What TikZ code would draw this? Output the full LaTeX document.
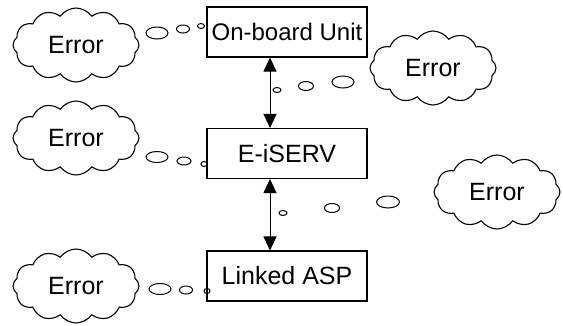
\documentclass[tikz,border=0pt]{standalone}
\usepackage{fontspec}
\setmainfont{Liberation Sans}
\usetikzlibrary{shapes.symbols,shapes.geometric,arrows.meta}

\begin{document}
\begin{tikzpicture}[x=1pt,y=-1pt,
    box/.style={draw,line width=1.1pt,minimum width=160pt,minimum height=50pt,
      inner sep=0pt,font=\fontsize{25}{30}\selectfont},
    err/.style={cloud,draw,line width=1.1pt,cloud puffs=12,cloud puff arc=110,
      cloud ignores aspect,inner sep=0pt,minimum width=126pt,minimum height=74pt,
      font=\fontsize{25}{30}\selectfont},
    bubble/.style={ellipse,draw,line width=1pt,inner sep=0pt},
    link/.style={line width=1pt,{Triangle[width=13pt,length=14pt]}-{Triangle[width=13pt,length=14pt]}},]
  \useasboundingbox (0,0) rectangle (563,325);
  % the three units
  \node[box,font=\fontsize{24}{30}\selectfont] (obu) at (287,32) {On-board Unit};
  \node[box] (serv) at (287,153.5) {E-iSERV};
  \node[box] (asp) at (287,276) {Linked ASP};
  \draw[link] (obu.south -| 270,0) -- (serv.north -| 270,0);
  \draw[link] (serv.south -| 270,0) -- (asp.north -| 270,0);
  % error clouds
  \node[err] (e1) at (76,45) {Error};
  \node[err] (e2) at (433,68) {Error};
  \node[err] (e3) at (76,138) {Error};
  \node[err] (e4) at (497,192) {Error};
  \node[err] (e5) at (76,286) {Error};
  % thought bubbles
  \node[bubble,minimum width=22pt,minimum height=12pt] (b1a) at (157,33) {};
  \node[bubble,minimum width=13pt,minimum height=8pt] (b1b) at (183,29) {};
  \node[bubble,minimum width=7pt,minimum height=5pt] (b1c) at (201,26) {};
  \node[bubble,minimum width=8pt,minimum height=5pt] (b2a) at (277,90) {};
  \node[bubble,minimum width=15pt,minimum height=9pt] (b2b) at (306,86) {};
  \node[bubble,minimum width=22pt,minimum height=12pt] (b2c) at (343,82) {};
  \node[bubble,minimum width=22pt,minimum height=11pt] (b3a) at (157,157) {};
  \node[bubble,minimum width=14pt,minimum height=8pt] (b3b) at (184,161) {};
  \node[bubble,minimum width=6pt,minimum height=5pt] (b3c) at (204,164) {};
  \node[bubble,minimum width=8pt,minimum height=5pt] (b4a) at (283,213) {};
  \node[bubble,minimum width=15pt,minimum height=9pt] (b4b) at (332,208) {};
  \node[bubble,minimum width=23pt,minimum height=12pt] (b4c) at (388,202) {};
  \node[bubble,minimum width=22pt,minimum height=11pt] (b5a) at (160,289) {};
  \node[bubble,minimum width=13pt,minimum height=8pt] (b5b) at (186,290) {};
  \node[bubble,minimum width=6pt,minimum height=5pt] (b5c) at (207,291) {};
\end{tikzpicture}
\end{document}
